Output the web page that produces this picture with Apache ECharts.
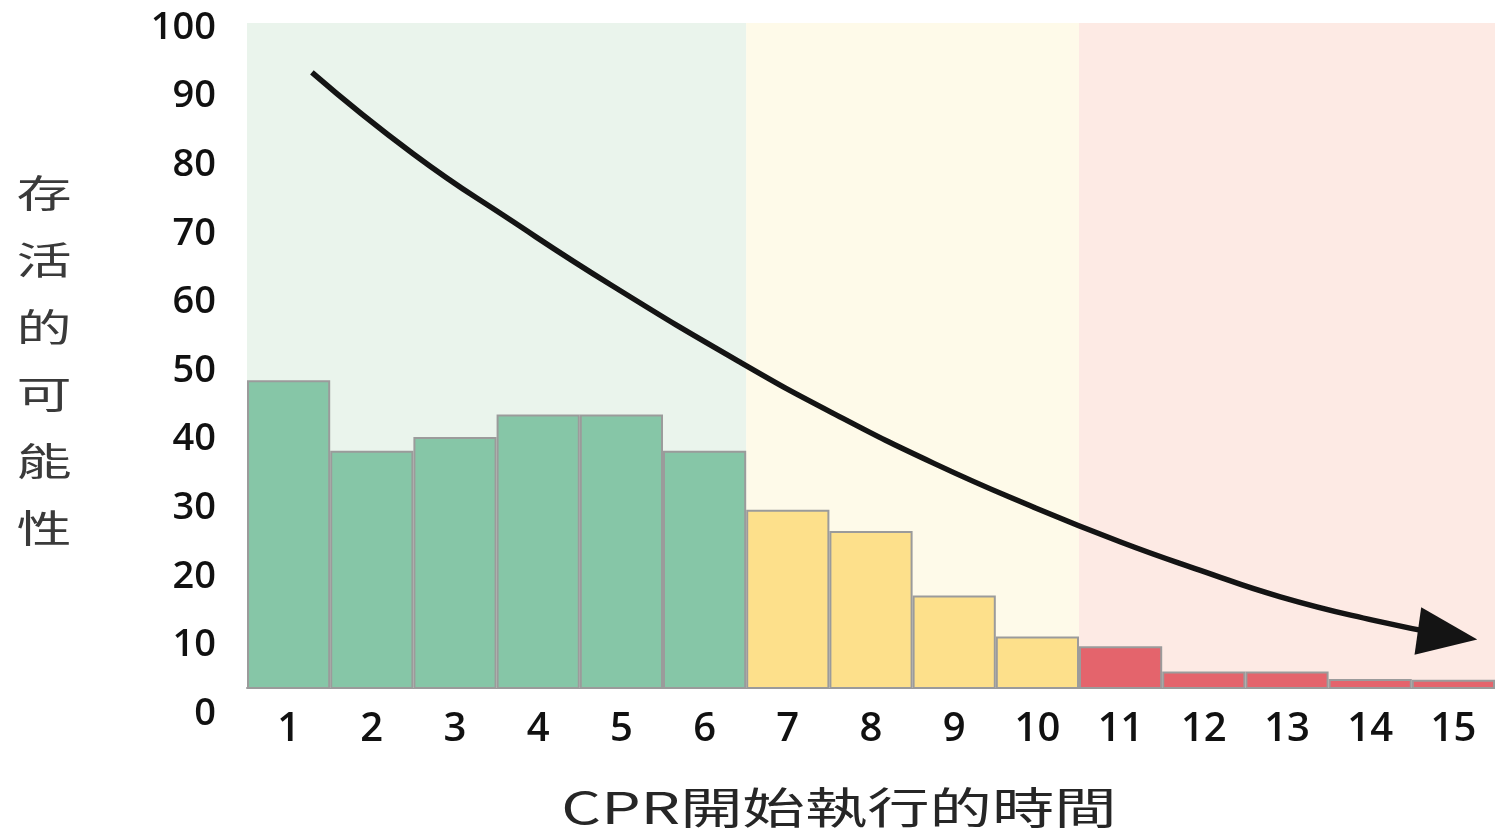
<!DOCTYPE html>
<html>
<head>
<meta charset="utf-8">
<script src="https://cdn.jsdelivr.net/npm/echarts@6/dist/echarts.min.js"></script>
<style>
  html, body { margin: 0; padding: 0; background: #ffffff; }
  #chart { width: 1495px; height: 832px; }
</style>
</head>
<body>
<div id="chart"></div>
<script>
// Minutes elapsed before CPR starts
const minutes = ['1', '2', '3', '4', '5', '6', '7', '8', '9', '10', '11', '12', '13', '14', '15'];
// Chance of survival (%) for each minute
const survival = [48.7, 38.4, 40.4, 43.7, 43.7, 38.4, 29.8, 26.7, 17.3, 11.3, 9.9, 6.2, 6.2, 5.1, 5.0];
// Trend arrow, sampled as minute position / percent
const trendX = [1.28, 2.50, 3.70, 4.90, 6.43, 7.54, 8.75, 9.95, 11.0, 11.95, 12.92, 14.03, 14.93];
const trendY = [93.6, 81.7, 71.8, 62.4, 51.3, 43.9, 36.6, 30.2, 25.1, 21.0, 17.1, 13.7, 11.5];
// Last minute of each zone (good / warning / critical)
const zoneEnds = [6, 10, 15];
// Percent scale shown on the left
const yTickMin = 0, yTickMax = 100, yTickStep = 10;
// Percent range covered by the shaded plot area
const plotFloor = 3.8, plotCeil = 100.8;

const zoneBar = ['#86c6a7', '#fde08b', '#e4646c'];
const zoneBg = ['#eaf4ec', '#fefae9', '#fdeae4'];
const axisFont = '"Open Sans", "DejaVu Sans", sans-serif';
const cjkFont = '"Noto Sans CJK TC", "Noto Sans CJK SC", sans-serif';

function zoneOf(minute) {
  for (let z = 0; z < zoneEnds.length; z++) if (minute <= zoneEnds[z]) return z;
  return zoneEnds.length - 1;
}

const zoneRanges = zoneEnds.map((end, z) => [z === 0 ? 0.5 : zoneEnds[z - 1] + 0.5, end + 0.5]);

const barData = survival.map((v, i) => ({
  value: v,
  itemStyle: { color: zoneBar[zoneOf(Number(minutes[i]))] }
}));

const last = trendX.length - 1;
const trendData = trendX.map((x, i) => i === last
  ? { value: [x, trendY[i]], symbol: 'triangle', symbolSize: [48, 60], symbolRotate: -98,
      itemStyle: { color: '#141414' } }
  : [x, trendY[i]]);

const chart = echarts.init(document.getElementById('chart'));
chart.setOption({
  animation: false,
  grid: [
    { left: 247, right: 0, top: 23, bottom: 144 },
    { left: 247, right: 0, top: 28, bottom: 118 }
  ],
  xAxis: [
    {
      type: 'category', gridIndex: 0, data: minutes,
      axisLine: { onZero: false, lineStyle: { color: '#9b9b9b', width: 2 } },
      axisTick: { show: false },
      axisLabel: { fontFamily: axisFont, fontSize: 40, fontWeight: 600, color: '#111', margin: 22 }
    },
    { type: 'value', gridIndex: 0, min: 0.5, max: minutes.length + 0.5, show: false },
    { type: 'value', gridIndex: 1, min: 0, max: 1, show: false }
  ],
  yAxis: [
    { type: 'value', gridIndex: 0, min: plotFloor, max: plotCeil, show: false },
    {
      type: 'value', gridIndex: 1, min: yTickMin, max: yTickMax, interval: yTickStep,
      axisLine: { show: false }, axisTick: { show: false }, splitLine: { show: false },
      axisLabel: { fontFamily: axisFont, fontSize: 38, fontWeight: 600, color: '#111', margin: 31 }
    }
  ],
  series: [
    {
      name: 'zones', type: 'line', xAxisIndex: 1, yAxisIndex: 0, data: [], z: 0, silent: true,
      markArea: {
        silent: true,
        data: zoneRanges.map((r, z) => [
          { xAxis: r[0], itemStyle: { color: zoneBg[z] } },
          { xAxis: r[1] }
        ])
      }
    },
    {
      name: '存活的可能性', type: 'bar', xAxisIndex: 0, yAxisIndex: 0, data: barData,
      barWidth: '100%', z: 2, clip: true,
      itemStyle: { borderColor: '#9b9b9b', borderWidth: 2 }
    },
    {
      name: 'trend', type: 'line', xAxisIndex: 1, yAxisIndex: 0, data: trendData, z: 3,
      smooth: 0.5, symbol: 'none', showSymbol: true, silent: true,
      lineStyle: { color: '#141414', width: 5.5 }
    }
  ],
  graphic: [
    {
      type: 'text', x: 44, y: 360, scaleX: 1.45,
      style: {
        text: '存\n活\n的\n可\n能\n性', textAlign: 'center', textVerticalAlign: 'middle',
        font: '38px ' + cjkFont, lineHeight: 67, fill: '#3a3a3a'
      }
    },
    {
      type: 'text', x: 839, y: 808, scaleX: 1.45,
      style: {
        text: 'CPR開始執行的時間', textAlign: 'center', textVerticalAlign: 'middle',
        font: '43px ' + cjkFont, fill: '#262626'
      }
    }
  ]
});
</script>
</body>
</html>
